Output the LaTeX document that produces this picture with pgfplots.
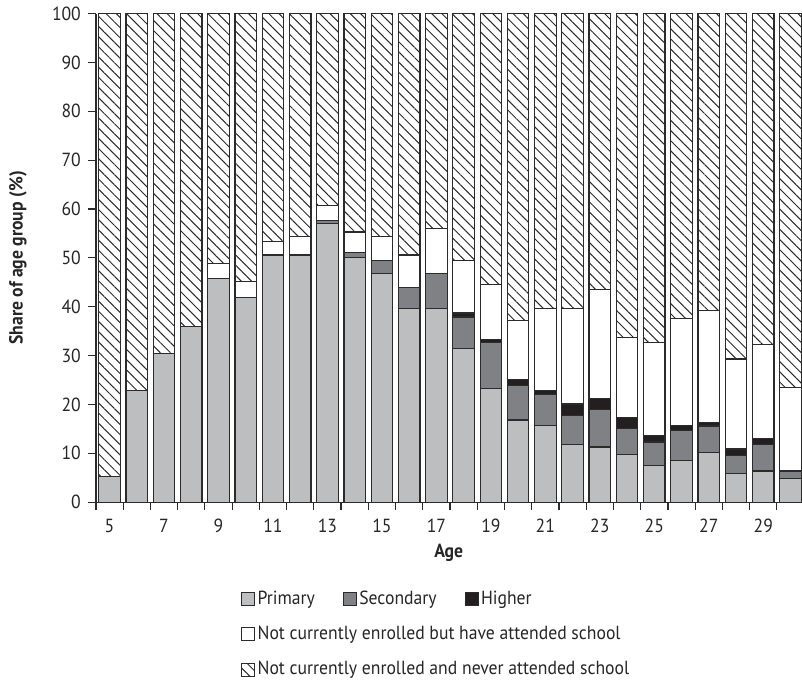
\documentclass[border=0pt]{standalone}
\usepackage{fontspec}
\setmainfont[FakeStretch=0.93]{PT Sans}
\usepackage{pgfplots}
\usepackage{pgfplotstable}
\pgfplotsset{compat=1.18}
\usetikzlibrary{patterns.meta}
\definecolor{prim}{HTML}{BDBEC0}
\definecolor{sec}{HTML}{808184}
\definecolor{high}{HTML}{231F20}
\definecolor{edge}{HTML}{2B2B2B}

\pgfplotstableread{
age P S H W N
5 5.3 0 0 0 94.7
6 22.8 0 0 0 77.2
7 30.4 0 0 0 69.6
8 35.9 0 0 0 64.1
9 45.7 0 0 3.2 51.1
10 41.9 0 0 3.2 54.9
11 50.6 0 0 2.8 46.6
12 50.6 0 0 3.7 45.7
13 57.0 0.6 0 3.1 39.3
14 50.0 1.1 0 4.2 44.7
15 46.8 2.7 0 4.8 45.7
16 39.7 4.3 0 6.6 49.4
17 39.7 7.1 0 9.2 44.0
18 31.5 6.4 0.8 10.8 50.5
19 23.2 9.5 0.6 11.3 55.4
20 16.8 7.1 1.2 12.0 62.9
21 15.7 6.4 0.7 16.9 60.3
22 11.8 5.9 2.4 19.6 60.3
23 11.3 7.6 2.3 22.4 56.4
24 9.7 5.4 2.3 16.3 66.3
25 7.5 4.8 1.3 19.0 67.4
26 8.5 6.1 1.1 21.9 62.4
27 10.2 5.4 0.7 22.9 60.8
28 5.9 3.7 1.3 18.4 70.7
29 6.4 5.4 1.3 19.1 67.8
30 4.8 1.5 0.1 17.0 76.6
}\data

\pgfplotsset{
  swatch/.style={legend image code/.code={\draw[##1,draw=edge,line width=0.5pt] (0pt,-3.25pt) rectangle (6.5pt,3.25pt);}},
}

\begin{document}
\begin{tikzpicture}
\begin{axis}[
  width=353pt, height=244.5pt, scale only axis,
  xmin=4.5, xmax=30.4, ymin=0, ymax=100,
  enlargelimits=false, clip=false,
  axis x line*=bottom, axis y line*=left,
  axis line style={-, edge, line width=0.6pt},
  ybar stacked, bar width=0.79, bar shift=0pt,
  xtick={4.5,5.5,...,29.5}, xticklabels={},
  extra x ticks={5,7,...,29},
  extra x tick labels={5,7,9,11,13,15,17,19,21,23,25,27,29},
  extra x tick style={tick style={draw=none}},
  ytick={0,10,...,100},
  tick align=outside, major tick length=4pt,
  tick style={edge, line width=0.6pt},
  /pgf/number format/assume math mode=true,
  tick label style={font=\fontsize{9.5}{11}\selectfont, text=black!85},
  xticklabel style={yshift=-1pt},
  label style={font=\fontsize{9.5}{11}\selectfont\bfseries, text=black!85},
  xlabel={Age},
  xlabel style={at={(axis description cs:0.5,-0.103)}, anchor=center},
  ylabel={Share of age group (\%)},
  ylabel style={at={(axis description cs:-0.1105,0.5)}, anchor=center},
  legend columns=3,
  legend style={at={(axis description cs:0.2057,-0.175)}, anchor=north west,
    draw=none, fill=none, inner sep=0pt, row sep=6.4pt,
    font=\fontsize{9.5}{11}\selectfont, text=black!85,
    nodes={inner sep=1.1pt, text height=7pt, text depth=2pt},
    cells={anchor=west},
    /tikz/every even column/.append style={column sep=13pt}},
]
\addplot[fill=prim, draw=edge, line width=0.6pt, swatch] table[x=age,y=P]{\data};
\addlegendentry{Primary}
\addplot[fill=sec, draw=edge, line width=0.6pt, swatch] table[x=age,y=S]{\data};
\addlegendentry{Secondary}
\addplot[fill=high, draw=edge, line width=0.6pt, swatch] table[x=age,y=H]{\data};
\addlegendentry{Higher}
\addplot[fill=white, draw=edge, line width=0.6pt, swatch] table[x=age,y=W]{\data};
\addlegendentry{\rlap{Not currently enrolled but have attended school}}
\addlegendimage{empty legend}\addlegendentry{}
\addlegendimage{empty legend}\addlegendentry{}
\addplot[pattern={Lines[angle=-45, distance=3.6pt, line width=0.5pt]}, pattern color=edge, draw=edge, line width=0.6pt, swatch] table[x=age,y=N]{\data};
\addlegendentry{\rlap{Not currently enrolled and never attended school}}
\end{axis}
\path (-48pt,251pt) rectangle (353pt,-88.5pt);
\end{tikzpicture}
\end{document}
